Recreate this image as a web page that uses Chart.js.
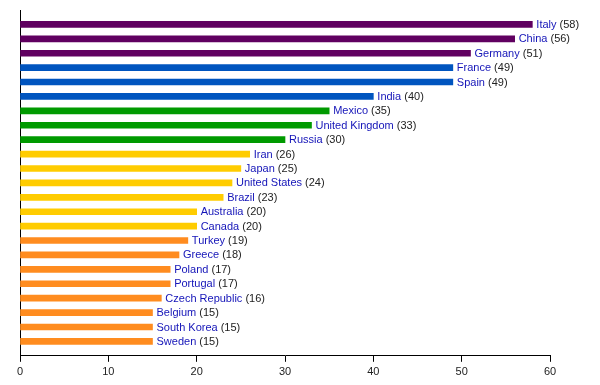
<!DOCTYPE html>
<html>
<head>
<meta charset="utf-8">
<script src="https://cdn.jsdelivr.net/npm/chart.js@4"></script>
<style>
  html, body { margin: 0; padding: 0; background: #fff; }
  #wrap { width: 600px; height: 385px; position: relative; }
</style>
</head>
<body>
<div id="wrap"><canvas id="chart"></canvas></div>
<script>
const countries = ['Italy', 'China', 'Germany', 'France', 'Spain', 'India', 'Mexico', 'United Kingdom', 'Russia',
  'Iran', 'Japan', 'United States', 'Brazil', 'Australia', 'Canada', 'Turkey', 'Greece', 'Poland', 'Portugal',
  'Czech Republic', 'Belgium', 'South Korea', 'Sweden'];
const counts = [58, 56, 51, 49, 49, 40, 35, 33, 30, 26, 25, 24, 23, 20, 20, 19, 18, 17, 17, 16, 15, 15, 15];
const xTicks = [0, 10, 20, 30, 40, 50, 60];

// colour bands, top to bottom
const PURPLE = '#600060', BLUE = '#0055bf', GREEN = '#009a00', YELLOW = '#ffcc00', ORANGE = '#ff8c1f';
const barColors = [PURPLE, PURPLE, PURPLE, BLUE, BLUE, BLUE, GREEN, GREEN, GREEN,
  YELLOW, YELLOW, YELLOW, YELLOW, YELLOW, YELLOW,
  ORANGE, ORANGE, ORANGE, ORANGE, ORANGE, ORANGE, ORANGE, ORANGE];

const FONT = '"Liberation Sans", Arial, sans-serif';

// name in blue + "(n)" after the end of each bar
const endLabels = {
  id: 'endLabels',
  afterDatasetsDraw(chart) {
    const ctx = chart.ctx;
    const meta = chart.getDatasetMeta(0);
    ctx.save();
    ctx.font = '11px ' + FONT;
    ctx.textBaseline = 'middle';
    ctx.textAlign = 'left';
    meta.data.forEach((bar, i) => {
      const x = bar.x + 4;
      const y = bar.y + 0.5;
      ctx.fillStyle = '#1414b8';
      ctx.fillText(countries[i], x, y);
      const w = ctx.measureText(countries[i] + ' ').width;
      ctx.fillStyle = '#222';
      ctx.fillText('(' + counts[i] + ')', x + w, y);
    });
    ctx.restore();
  }
};

new Chart(document.getElementById('chart'), {
  type: 'bar',
  data: {
    datasets: [{
      data: counts.map((v, i) => ({ x: v, y: i })),
      backgroundColor: barColors,
      borderWidth: 0,
      barThickness: 6
    }]
  },
  options: {
    indexAxis: 'y',
    responsive: true,
    maintainAspectRatio: false,
    animation: false,
    layout: { padding: { left: 12, top: 10, right: 50, bottom: 2 } },
    plugins: { legend: { display: false }, tooltip: { enabled: false } },
    scales: {
      y: {
        type: 'linear',
        reverse: true,
        offset: false,
        min: -1,
        max: 23,
        grid: { display: false },
        ticks: { display: false },
        border: { display: true, color: '#000', width: 1 }
      },
      x: {
        type: 'linear',
        min: xTicks[0],
        max: xTicks[xTicks.length - 1],
        afterBuildTicks: (axis) => { axis.ticks = xTicks.map(v => ({ value: v })); },
        grid: { drawOnChartArea: false, drawTicks: true, tickLength: 6, color: '#000' },
        border: { display: true, color: '#000', width: 1 },
        ticks: { color: '#222', font: { family: FONT, size: 11 }, padding: 4, maxRotation: 0 }
      }
    }
  },
  plugins: [endLabels]
});
</script>
</body>
</html>
